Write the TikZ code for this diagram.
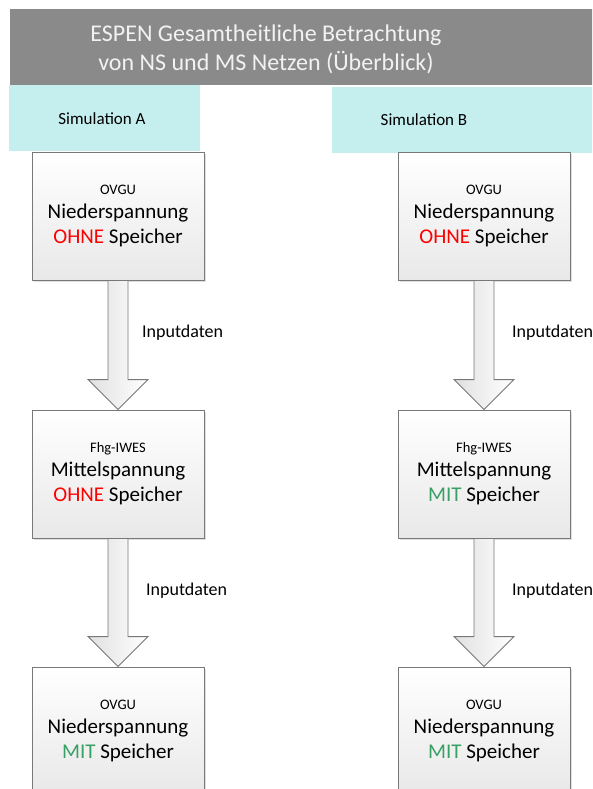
\documentclass[tikz,border=0pt]{standalone}
\usepackage{fontspec}
\setmainfont{Carlito}
\usetikzlibrary{positioning,calc,shadows}

\definecolor{titelgrau}{RGB}{138,138,138}
\definecolor{simcyan}{RGB}{197,238,238}
\definecolor{ohnerot}{RGB}{255,0,0}
\definecolor{mitgruen}{RGB}{56,160,100}
\definecolor{rahmengrau}{RGB}{120,120,120}

\tikzset{
    netzbox/.style={draw=rahmengrau, line width=0.9pt, top color=white, bottom color=black!9,
        minimum width=172pt, minimum height=128pt, align=center, inner sep=0pt,
        font=\fontsize{21}{25}\selectfont,
        drop shadow={shadow xshift=2pt, shadow yshift=-2pt, opacity=0.3, fill=black!40}},
    simtext/.style={font=\fontsize{17}{20}\selectfont, inner sep=0pt},
    datentext/.style={font=\fontsize{18}{20}\selectfont, anchor=west, inner sep=0pt},
    blockpfeil/.style={draw=rahmengrau, line width=0.9pt, left color=black!12, right color=white}
}

% Blockpfeil von Kasten #1 zu Kasten #2
\newcommand{\datenpfeil}[2]{
    \draw[blockpfeil] ($(#1.south)+(-10,0)$) -- ($(#2.north)+(-10,-30)$) -- ($(#2.north)+(-30,-30)$)
        -- (#2.north) -- ($(#2.north)+(30,-30)$) -- ($(#2.north)+(10,-30)$) -- ($(#1.south)+(10,0)$) -- cycle;
}

\begin{document}
\begin{tikzpicture}[x=1pt, y=-1pt]
    \useasboundingbox (0,0) rectangle (592,789);
    \clip (0,0) rectangle (592,789);

    % Titel
    \fill[titelgrau] (10,9) rectangle (600,85);
    \node (titel) [align=center, text=white!95!black, font=\fontsize{24}{29}\selectfont]
        at (266,49) {ESPEN Gesamtheitliche Betrachtung\\von NS und MS Netzen (\"Uberblick)};

    % Simulationen
    \fill[simcyan] (9,85) rectangle (200,151);
    \node (simA) [simtext] at (102,119) {Simulation A};
    \fill[simcyan] (332,87) rectangle (600,153);
    \node (simB) [simtext] at (424,120) {Simulation B};

    % Simulation A
    \node (nsA) [netzbox] at (118,216)
        {{\fontsize{14.5}{17}\selectfont OVGU}\\[-1pt]Niederspannung\\\textcolor{ohnerot}{OHNE} Speicher};
    \node (msA) [netzbox] at (118,474)
        {{\fontsize{14.5}{17}\selectfont Fhg-IWES}\\[-1pt]Mittelspannung\\\textcolor{ohnerot}{OHNE} Speicher};
    \node (nsmitA) [netzbox] at (118,731)
        {{\fontsize{14.5}{17}\selectfont OVGU}\\[-1pt]Niederspannung\\\textcolor{mitgruen}{MIT} Speicher};

    % Simulation B
    \node (nsB) [netzbox] at (484,216)
        {{\fontsize{14.5}{17}\selectfont OVGU}\\[-1pt]Niederspannung\\\textcolor{ohnerot}{OHNE} Speicher};
    \node (msB) [netzbox] at (484,474)
        {{\fontsize{14.5}{17}\selectfont Fhg-IWES}\\[-1pt]Mittelspannung\\\textcolor{mitgruen}{MIT} Speicher};
    \node (nsmitB) [netzbox] at (484,731)
        {{\fontsize{14.5}{17}\selectfont OVGU}\\[-1pt]Niederspannung\\\textcolor{mitgruen}{MIT} Speicher};

    % Pfeile
    \datenpfeil{nsA}{msA}
    \datenpfeil{msA}{nsmitA}
    \datenpfeil{nsB}{msB}
    \datenpfeil{msB}{nsmitB}

    \node (datenA1) [datentext] at (142,333) {Inputdaten};
    \node (datenA2) [datentext] at (146,591) {Inputdaten};
    \node (datenB1) [datentext] at (512,333) {Inputdaten};
    \node (datenB2) [datentext] at (512,591) {Inputdaten};
\end{tikzpicture}
\end{document}
